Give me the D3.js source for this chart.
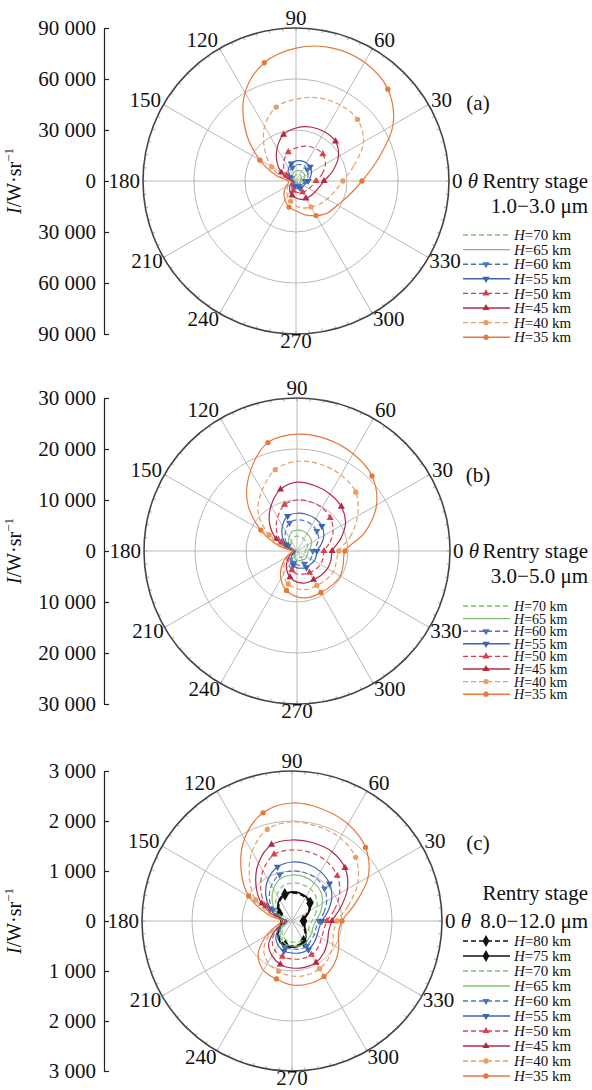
<!DOCTYPE html>
<html>
<head>
<meta charset="utf-8">
<script src="https://cdn.jsdelivr.net/npm/d3@7"></script>
<style>
  body { margin: 0; background: #fff; }
  text { font-family: "Liberation Serif", "Times New Roman", serif; fill: #111; }
</style>
</head>
<body>
<div id="viz"></div>
<script>
// angle grid (deg) shared by every series
var angles = [0,15,30,45,60,75,90,105,120,135,150,165,180,195,210,225,240,255,270,285,300,315,330,345];
var spokeAngles = [0,30,60,90,120,150,180,210,240,270,300,330];

// (a) 1.0-3.0 um
var a35 = [38800,50000,65900,76400,80600,81100,78200,72000,60000,42000,24500,11800,4700,4700,7100,10000,12900,15900,17600,20600,23500,26500,28200,32300];
var a40 = [27600,35300,45900,51200,51700,50600,48200,45000,37000,26000,16500,8800,3500,3500,5300,7600,10000,12300,14700,16500,17600,19400,21200,23500];
var a45 = [16500,22300,28800,32900,33500,32900,31200,28200,22300,15900,10000,5300,2400,2400,3500,5300,7100,8800,10000,11200,11800,12300,12900,14100];
var a50 = [11800,15900,20000,22300,22300,21200,19400,17600,14100,10000,6500,3500,1800,1800,2400,3500,4700,5900,6500,7100,7600,8200,8800,10000];
var a55 = [7100,8800,10600,11800,12300,12300,11800,10600,8800,6500,4700,2900,1800,1800,1800,2400,2900,3500,4100,4700,4700,5300,5300,5900];
var a60 = [5300,7100,8200,9400,10000,10000,9400,8200,7100,5300,3500,2400,1200,1200,1200,1800,2400,2900,2900,3500,3500,4100,4100,4700];
var a65 = [3500,4700,5900,6500,6500,6500,5900,5300,4100,2900,1800,1200,600,600,600,1200,1200,1800,1800,1800,2400,2400,2400,2900];
var a70 = [2400,2900,3500,4100,4100,4100,3500,2900,2400,1800,1200,600,600,600,600,600,600,1200,1200,1200,1200,1200,1800,1800];

// (b) 3.0-5.0 um
var b35 = [9400,13700,18000,20800,22000,22700,22900,22000,18200,13800,8200,3500,1000,1200,2400,4300,6300,8000,9000,9400,9400,9600,9800,9400];
var b40 = [8200,10800,13700,16300,17200,17600,17600,16500,13700,10800,6300,2700,800,1000,2000,3500,5300,6700,7400,7800,7800,8000,8200,8000];
var b45 = [6900,8800,11000,12300,12900,13300,13500,12500,10200,7600,4700,2000,600,800,1600,2700,4100,5300,6100,6500,6500,6700,6900,6900];
var b50 = [5300,6700,8200,9200,9800,10000,10000,9400,7600,5700,3500,1600,400,600,1200,2200,3100,3900,4500,4700,4900,5100,5300,5300];
var b55 = [3900,4900,6100,6900,7300,7400,7400,7100,5700,4100,2500,1200,400,400,800,1600,2400,2900,3300,3500,3700,3700,3900,3900];
var b60 = [3100,3900,4900,5500,5900,6100,6100,5700,4500,3300,2000,1000,400,400,600,1200,2000,2400,2700,2900,2900,3100,3100,3100];
var b65 = [2200,2700,3300,3700,3900,4100,4100,3900,3100,2400,1400,600,200,200,400,800,1200,1600,1800,2000,2000,2200,2200,2200];
var b70 = [1600,2000,2400,2500,2700,2900,2900,2700,2200,1600,1000,400,200,200,200,600,800,1200,1200,1400,1400,1600,1600,1600];

// (c) 8.0-12.0 um
var c35 = [1000,1300,1760,2080,2240,2320,2360,2240,1900,1440,1000,500,200,300,600,960,1140,1200,1280,1300,1280,1200,1080,960];
var c40 = [900,1160,1520,1800,1920,1960,1980,1900,1600,1200,840,400,160,240,500,800,960,1040,1100,1120,1100,1040,940,860];
var c45 = [800,1000,1280,1500,1600,1620,1620,1580,1340,1020,700,340,140,200,400,660,800,900,940,960,960,900,820,760];
var c50 = [700,880,1100,1280,1380,1420,1420,1380,1160,880,600,300,120,180,360,560,680,740,760,780,780,740,680,660];
var c55 = [600,740,920,1060,1140,1180,1180,1120,960,740,500,260,100,160,300,460,560,620,640,660,660,620,580,560];
var c60 = [540,660,800,920,980,1000,1000,960,820,640,440,220,80,140,260,400,480,540,560,580,580,540,520,500];
var c65 = [480,580,700,820,880,920,920,880,740,560,380,200,80,120,220,340,420,480,500,520,520,480,460,440];
var c70 = [400,480,580,680,740,760,760,720,600,460,320,160,60,100,180,280,360,400,420,440,440,400,380,360];
var c75 = [240,280,400,520,560,580,580,560,500,400,300,240,220,240,300,400,480,520,520,520,480,400,300,260];
var c80 = [220,260,380,500,540,560,560,540,480,380,280,220,200,220,280,380,460,500,500,500,460,380,280,240];

var ticksA = [-90000,-60000,-30000,0,30000,60000,90000];
var ticksB = [-30000,-20000,-10000,0,10000,20000,30000];
var ticksC = [-3000,-2000,-1000,0,1000,2000,3000];

var markIdx = [0,3,7,10,17,20];

var styleOf = {
  80: {c:'#111111', dash:true,  sym:'diamond'},
  75: {c:'#111111', dash:false, sym:'diamond'},
  70: {c:'#7fc06e', dash:true,  sym:null},
  65: {c:'#7fc06e', dash:false, sym:null},
  60: {c:'#4a74ba', dash:true,  sym:'down'},
  55: {c:'#3b63ae', dash:false, sym:'down'},
  50: {c:'#d4424e', dash:true,  sym:'up'},
  45: {c:'#b22a42', dash:false, sym:'up'},
  40: {c:'#ec9c5e', dash:true,  sym:'circle'},
  35: {c:'#e8773c', dash:false, sym:'circle'}
};

var panels = [
  {tag:'(a)', cx:296, cy:181, R:153, max:90000, ticks:ticksA, band:'1.0\u22123.0 \u03bcm', tagY:103,
   series:[[70,a70],[65,a65],[60,a60],[55,a55],[50,a50],[45,a45],[40,a40],[35,a35]], legTop:235, legStep:14.6, legFont:15},
  {tag:'(b)', cx:297, cy:551, R:153, max:30000, ticks:ticksB, band:'3.0\u22125.0 \u03bcm', tagY:475,
   series:[[70,b70],[65,b65],[60,b60],[55,b55],[50,b50],[45,b45],[40,b40],[35,b35]], legTop:606, legStep:12.6, legFont:14},
  {tag:'(c)', cx:292, cy:921, R:150, max:3000, ticks:ticksC, band:'8.0\u221212.0 \u03bcm', tagY:843,
   series:[[80,c80],[75,c75],[70,c70],[65,c65],[60,c60],[55,c55],[50,c50],[45,c45],[40,c40],[35,c35]], legTop:941, legStep:15, legFont:15}
];

var svg = d3.select('#viz').append('svg')
  .attr('width', 592).attr('height', 1090)
  .style('background', '#fff');

function symPath(name, size) {
  var t = name == 'diamond' ? d3.symbolDiamond : name == 'circle' ? d3.symbolCircle : d3.symbolTriangle;
  return d3.symbol().type(t).size(size)();
}

function addMarker(g, x, y, st, size) {
  if (!st.sym) return;
  g.append('path')
    .attr('d', symPath(st.sym, size))
    .attr('transform', 'translate(' + x + ',' + y + ')' + (st.sym == 'down' ? ' rotate(180)' : ''))
    .attr('fill', st.c)
    .attr('stroke', 'none');
}

var fmt = function(d) { return d3.format(',')(Math.abs(d)).replace(/,/g, ' '); };

panels.forEach(function(p) {
  var g = svg.append('g');
  var r = d3.scaleLinear().domain([0, p.max]).range([0, p.R]);
  var rad = function(a) { return a * Math.PI / 180; };

  // rings
  g.selectAll('.ring')
    .data([p.max / 3, p.max * 2 / 3])
    .join('circle')
    .attr('cx', p.cx).attr('cy', p.cy)
    .attr('r', d => r(d))
    .attr('fill', 'none').attr('stroke', '#b8b8b8').attr('stroke-width', 1);

  // spokes
  g.selectAll('.spoke')
    .data(spokeAngles)
    .join('line')
    .attr('x1', p.cx).attr('y1', p.cy)
    .attr('x2', d => p.cx + p.R * Math.cos(rad(d)))
    .attr('y2', d => p.cy - p.R * Math.sin(rad(d)))
    .attr('stroke', '#b8b8b8').attr('stroke-width', 1);

  // minor ticks on rim
  g.selectAll('.mt')
    .data(d3.range(0, 360, 5))
    .join('line')
    .attr('x1', d => p.cx + p.R * Math.cos(rad(d)))
    .attr('y1', d => p.cy - p.R * Math.sin(rad(d)))
    .attr('x2', d => p.cx + (p.R - 3) * Math.cos(rad(d)))
    .attr('y2', d => p.cy - (p.R - 3) * Math.sin(rad(d)))
    .attr('stroke', '#999').attr('stroke-width', 0.8);

  // rim
  g.append('circle')
    .attr('cx', p.cx).attr('cy', p.cy).attr('r', p.R)
    .attr('fill', 'none').attr('stroke', '#444').attr('stroke-width', 1.6);

  // angle labels
  spokeAngles.forEach(function(a) {
    var c = Math.cos(rad(a)), s = Math.sin(rad(a));
    var off = s < -0.01 ? 1 : 3;
    var x = p.cx + (p.R + off) * c, y = p.cy - (p.R + off) * s - s * (s < 0 ? 5.5 : 7);
    var t = g.append('text')
      .attr('x', x).attr('y', y).attr('dy', '0.35em')
      .attr('font-size', 21)
      .attr('text-anchor', c > 0.01 ? 'start' : c < -0.01 ? 'end' : 'middle');
    if (a == 0) {
      t.text('0 ');
      t.append('tspan').attr('font-style', 'italic').text('\u03b8');
    } else {
      t.text(a);
    }
  });

  // y axis
  var y = d3.scaleLinear().domain([-p.max, p.max]).range([p.cy + p.R, p.cy - p.R]);
  var ax = g.append('g')
    .attr('transform', 'translate(104,0)')
    .call(d3.axisLeft(y).tickValues(p.ticks).tickSize(-5).tickSizeOuter(0).tickPadding(8).tickFormat(fmt));
  ax.attr('font-size', 21);
  ax.selectAll('path,line').attr('stroke', '#222').attr('stroke-width', 1.2);

  var yt = g.append('text')
    .attr('transform', 'translate(21,' + p.cy + ') rotate(-90)')
    .attr('text-anchor', 'middle')
    .attr('font-size', 20);
  yt.append('tspan').attr('font-style', 'italic').text('I');
  yt.append('tspan').text('/W\u00b7sr');
  yt.append('tspan').attr('font-size', 13).attr('dy', -8).text('\u22121');

  // curves
  var line = d3.lineRadial()
    .angle((d, i) => Math.PI / 2 - rad(angles[i]))
    .radius(d => r(d))
    .curve(d3.curveCatmullRomClosed.alpha(0.5));

  p.series.forEach(function(sr) {
    var st = styleOf[sr[0]];
    g.append('path')
      .datum(sr[1])
      .attr('transform', 'translate(' + p.cx + ',' + p.cy + ')')
      .attr('d', line)
      .attr('fill', 'none')
      .attr('stroke', st.c)
      .attr('stroke-width', sr[0] >= 75 ? 1.8 : 1.2)
      .attr('stroke-dasharray', st.dash ? '5,3' : null);
    markIdx.forEach(function(i) {
      var v = r(sr[1][i]);
      addMarker(g, p.cx + v * Math.cos(rad(angles[i])), p.cy - v * Math.sin(rad(angles[i])), st, sr[0] >= 75 ? 40 : 22);
    });
  });

  // panel tag + title
  g.append('text').attr('x', 478).attr('y', p.tagY).attr('dy', '0.35em')
    .attr('text-anchor', 'middle').attr('font-size', 21).text(p.tag);

  if (p.tag == '(c)') {
    g.append('text').attr('x', 588).attr('y', p.cy - 28).attr('dy', '0.35em')
      .attr('text-anchor', 'end').attr('font-size', 21).text('Rentry stage');
    g.append('text').attr('x', 588).attr('y', p.cy).attr('dy', '0.35em')
      .attr('text-anchor', 'end').attr('font-size', 21).text(p.band);
  } else {
    g.append('text').attr('x', 588).attr('y', p.cy).attr('dy', '0.35em')
      .attr('text-anchor', 'end').attr('font-size', 21).text('Rentry stage');
    g.append('text').attr('x', 588).attr('y', p.cy + 25).attr('dy', '0.35em')
      .attr('text-anchor', 'end').attr('font-size', 21).text(p.band);
  }

  // legend, highest altitude first
  p.series.forEach(function(sr, k) {
    var st = styleOf[sr[0]];
    var ly = p.legTop + k * p.legStep;
    g.append('line').attr('x1', 463).attr('x2', 510).attr('y1', ly).attr('y2', ly)
      .attr('stroke', st.c).attr('stroke-width', sr[0] >= 75 ? 1.6 : 1.4)
      .attr('stroke-dasharray', st.dash ? '5,3' : null);
    addMarker(g, 486, ly, st, sr[0] >= 75 ? 40 : 22);
    var t = g.append('text').attr('x', 514).attr('y', ly).attr('dy', '0.35em').attr('font-size', p.legFont);
    t.append('tspan').attr('font-style', 'italic').text('H');
    t.append('tspan').text('=' + sr[0] + ' km');
  });
});
</script>
</body>
</html>
